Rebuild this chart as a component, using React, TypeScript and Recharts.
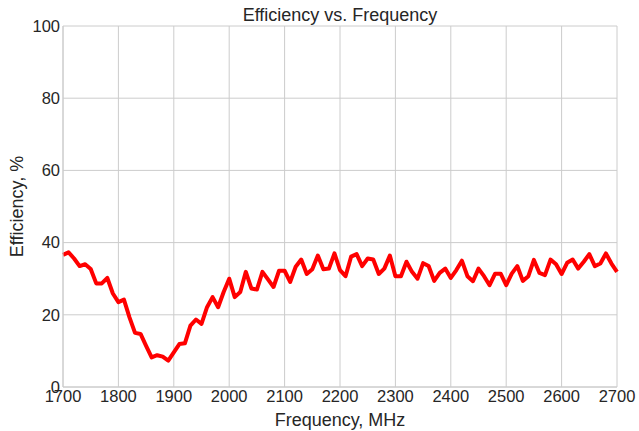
import React from 'react';
import { LineChart, Line, XAxis, YAxis, CartesianGrid } from 'recharts';

const frequencies = [
  1700, 1710, 1720, 1730, 1740, 1750, 1760, 1770, 1780, 1790,
  1800, 1810, 1820, 1830, 1840, 1850, 1860, 1870, 1880, 1890,
  1900, 1910, 1920, 1930, 1940, 1950, 1960, 1970, 1980, 1990,
  2000, 2010, 2020, 2030, 2040, 2050, 2060, 2070, 2080, 2090,
  2100, 2110, 2120, 2130, 2140, 2150, 2160, 2170, 2180, 2190,
  2200, 2210, 2220, 2230, 2240, 2250, 2260, 2270, 2280, 2290,
  2300, 2310, 2320, 2330, 2340, 2350, 2360, 2370, 2380, 2390,
  2400, 2410, 2420, 2430, 2440, 2450, 2460, 2470, 2480, 2490,
  2500, 2510, 2520, 2530, 2540, 2550, 2560, 2570, 2580, 2590,
  2600, 2610, 2620, 2630, 2640, 2650, 2660, 2670, 2680, 2690,
  2700,
];

const efficiency = [
  36.6, 37.3, 35.6, 33.5, 34.0, 32.7, 28.7, 28.7, 30.2, 25.9,
  23.5, 24.2, 19.3, 15.0, 14.7, 11.4, 8.2, 8.8, 8.4, 7.3,
  9.6, 11.9, 12.1, 17.0, 18.7, 17.5, 22.1, 24.9, 22.1, 26.3,
  30.0, 24.9, 26.3, 31.9, 27.3, 27.0, 31.9, 29.8, 27.7, 32.2,
  32.2, 29.1, 33.3, 35.3, 31.3, 32.6, 36.4, 32.6, 32.8, 37.0,
  32.4, 30.7, 36.1, 36.8, 33.5, 35.6, 35.3, 31.3, 32.8, 36.4,
  30.7, 30.7, 34.7, 31.9, 30.0, 34.3, 33.5, 29.4, 31.6, 32.8,
  30.2, 32.4, 35.0, 30.7, 29.3, 32.8, 30.7, 28.2, 31.4, 31.4,
  28.2, 31.4, 33.5, 29.4, 30.7, 35.2, 31.6, 31.0, 35.3, 34.0,
  31.3, 34.4, 35.3, 32.8, 34.7, 36.8, 33.5, 34.2, 37.0, 34.2,
  31.9,
];

const xTicks = [1700, 1800, 1900, 2000, 2100, 2200, 2300, 2400, 2500, 2600, 2700];
const yTicks = [0, 20, 40, 60, 80, 100];

const data = frequencies.map((f, i) => ({ freq: f, eff: efficiency[i] }));

const FONT = '"Liberation Sans", Arial, sans-serif';
const TEXT = '#262626';
const GRID = '#cccccc';

export default function App() {
  return (
    <div style={{ position: 'absolute', left: 0, top: 0, width: 639, height: 431, background: '#fff', fontFamily: FONT }}>
      <div
        style={{
          position: 'absolute',
          left: 63,
          width: 554,
          top: 5,
          textAlign: 'center',
          fontSize: 18,
          color: TEXT,
        }}
      >
        Efficiency vs. Frequency
      </div>
      <LineChart width={639} height={431} data={data} margin={{ top: 26, right: 22, bottom: 0, left: 0 }}>
        <CartesianGrid stroke={GRID} strokeWidth={1} vertical horizontal />
        <XAxis
          dataKey="freq"
          type="number"
          domain={[1700, 2700]}
          ticks={xTicks}
          height={44}
          tickSize={0}
          tickMargin={3}
          axisLine={{ stroke: GRID }}
          tick={{ fontSize: 16.5, fill: TEXT, fontFamily: FONT }}
          label={{ value: 'Frequency, MHz', position: 'insideBottom', offset: 5, fontSize: 18, fill: TEXT, fontFamily: FONT }}
        />
        <YAxis
          type="number"
          domain={[0, 100]}
          ticks={yTicks}
          width={63}
          tickSize={0}
          tickMargin={3}
          axisLine={{ stroke: GRID }}
          tick={{ fontSize: 16.5, fill: TEXT, fontFamily: FONT }}
          label={{
            value: 'Efficiency, %',
            angle: -90,
            position: 'insideLeft',
            offset: 17,
            fontSize: 18,
            fill: TEXT,
            fontFamily: FONT,
            style: { textAnchor: 'middle' },
          }}
        />
        <Line
          type="linear"
          dataKey="eff"
          stroke="#ff0000"
          strokeWidth={4}
          strokeLinejoin="round"
          dot={false}
          isAnimationActive={false}
        />
      </LineChart>
    </div>
  );
}
